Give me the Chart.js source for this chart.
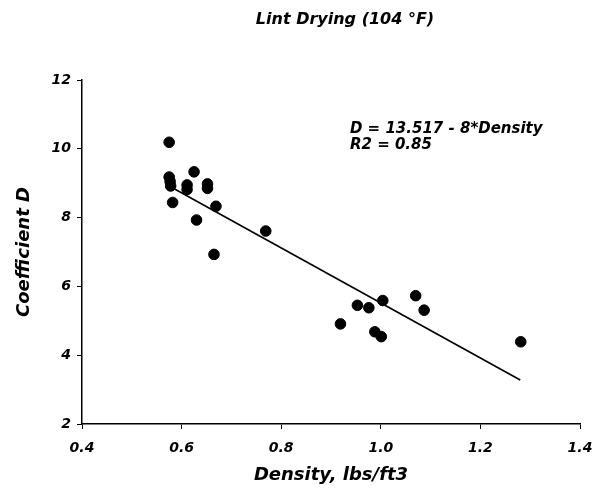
<!DOCTYPE html>
<html><head><meta charset="utf-8">
<script src="https://cdn.jsdelivr.net/npm/chart.js@4.4.1/dist/chart.umd.min.js"></script>
<style>html,body{margin:0;padding:0;background:#fff}#wrap{width:607px;height:491px}</style>
</head><body><div id="wrap"><canvas id="c" width="607" height="491"></canvas></div>
<script>
const densityX = [0.575,0.575,0.577,0.578,0.625,0.611,0.611,0.652,0.652,0.582,0.669,0.630,0.769,0.665,0.919,0.953,0.976,1.004,0.988,1.001,1.070,1.087,1.281];
const coeffD   = [10.19,9.18,9.05,8.92,9.33,8.95,8.82,8.98,8.85,8.44,8.33,7.93,7.61,6.93,4.91,5.45,5.38,5.59,4.68,4.54,5.73,5.31,4.39];
const fitX = [0.575,1.28];
const fitY = [8.92,3.28];
const xTicks = [0.4,0.6,0.8,1.0,1.2,1.4];
const yTicks = [2,4,6,8,10,12];
const titleText = 'Lint Drying (104 °F)';
const xTitle = 'Density, lbs/ft3';
const yTitle = 'Coefficient D';
const noteLines = ['D = 13.517 - 8*Density','R2 = 0.85'];

const FONT = '"DejaVu Sans", sans-serif';
const annot = {
  id:'annot',
  afterDatasetsDraw(chart){
    const {ctx,scales:{x,y}}=chart;
    ctx.save();
    ctx.fillStyle='#000';
    ctx.textBaseline='middle';
    ctx.font='italic bold 16px '+FONT;
    ctx.textAlign='center';
    ctx.fillText(titleText, 345, 20);
    ctx.font='italic bold 15px '+FONT;
    ctx.textAlign='left';
    ctx.fillText(noteLines[0], x.getPixelForValue(0.938), y.getPixelForValue(10.56));
    ctx.fillText(noteLines[1], x.getPixelForValue(0.938), y.getPixelForValue(10.12));
    ctx.restore();
  }
};

new Chart(document.getElementById('c'),{
  type:'scatter',
  data:{datasets:[
    {label:'data',data:densityX.map((v,i)=>({x:v,y:coeffD[i]})),backgroundColor:'#000',borderColor:'#000',pointRadius:5.3,pointHoverRadius:5.3,order:1},
    {label:'fit',type:'line',data:fitX.map((v,i)=>({x:v,y:fitY[i]})),borderColor:'#000',borderWidth:1.6,pointRadius:0,fill:false,order:2}
  ]},
  options:{
    responsive:false,animation:false,
    layout:{padding:{left:0,right:27,top:80,bottom:0}},
    plugins:{legend:{display:false},tooltip:{enabled:false},title:{display:false}},
    scales:{
      x:{type:'linear',min:0.4,max:1.4,
        afterBuildTicks(s){s.ticks=xTicks.map(v=>({value:v}));},
        afterFit(s){s.height=67;},
        ticks:{color:'#000',font:{family:FONT,size:14,style:'italic',weight:'bold'},callback:v=>v.toFixed(1),padding:11,maxRotation:0},
        grid:{drawOnChartArea:false,color:'#000',tickLength:5},
        border:{color:'#000',width:1.5},
        title:{display:true,text:xTitle,color:'#000',font:{family:FONT,size:18,style:'italic',weight:'bold'},padding:{top:0,bottom:5}}
      },
      y:{type:'linear',min:2,max:12,
        afterBuildTicks(s){s.ticks=yTicks.map(v=>({value:v}));},
        afterFit(s){s.width=82;},
        ticks:{color:'#000',font:{family:FONT,size:14,style:'italic',weight:'bold'},padding:6},
        grid:{drawOnChartArea:false,color:'#000',tickLength:5},
        border:{color:'#000',width:1.5},
        title:{display:true,text:yTitle,color:'#000',font:{family:FONT,size:18,style:'italic',weight:'bold'},padding:{top:14,bottom:0}}
      }
    }
  },
  plugins:[annot]
});
</script></body></html>
